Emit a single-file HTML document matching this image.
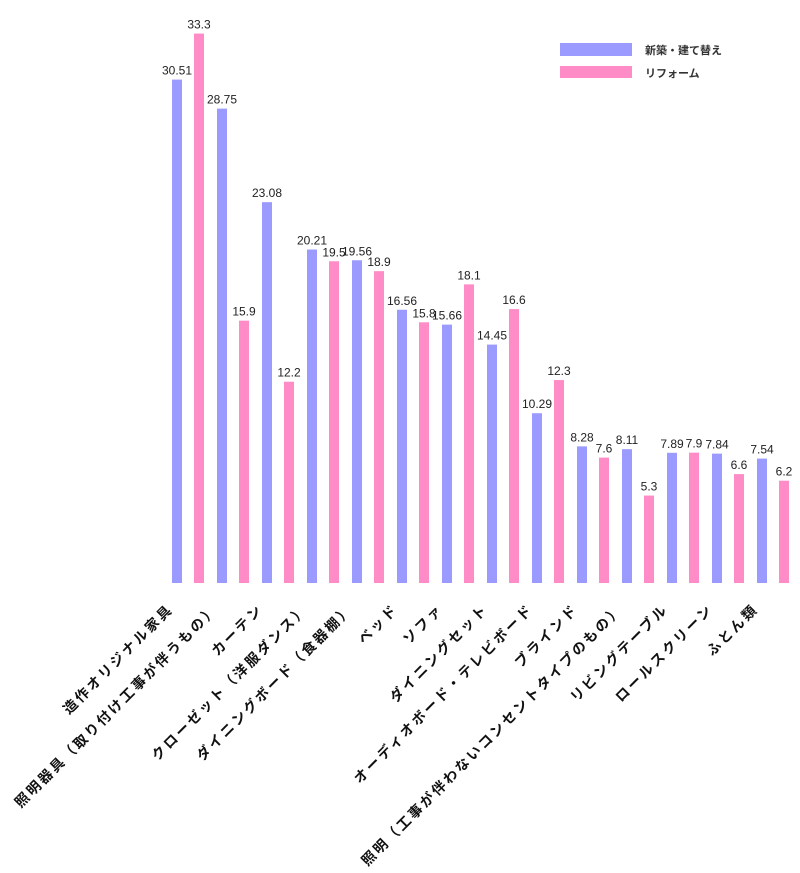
<!DOCTYPE html>
<html><head><meta charset="utf-8"><style>
body{margin:0;background:#fff;}
svg text{font-family:"Liberation Sans","Noto Sans CJK JP",sans-serif;}
</style></head><body>
<svg width="800" height="868" viewBox="0 0 800 868">
<g id="bars"></g><g id="labels"></g>
<g>
<rect x="560" y="43" width="72" height="13" fill="#9a9aff"/>
<text x="645" y="54" font-size="11" font-weight="bold" fill="#333">新築・建て替え</text>
<rect x="560" y="66" width="72" height="12" fill="#ff8cc6"/>
<text x="645" y="77" font-size="11" font-weight="bold" fill="#333">リフォーム</text>
</g>
</svg>
<script>
const categories=["造作オリジナル家具","照明器具（取り付け工事が伴うもの）","カーテン","クローゼット（洋服ダンス）","ダイニングボード（食器棚）","ベッド","ソファ","ダイニングセット","オーディオボード・テレビボード","ブラインド","照明（工事が伴わないコンセントタイプのもの）","リビングテーブル","ロールスクリーン","ふとん類"];
const newBuild=[30.51,28.75,23.08,20.21,19.56,16.56,15.66,14.45,10.29,8.28,8.11,7.89,7.84,7.54];
const reform=[33.3,15.9,12.2,19.5,18.9,15.8,18.1,16.6,12.3,7.6,5.3,7.9,6.6,6.2];
const NS="http://www.w3.org/2000/svg";
const base=583, scale=16.5, x0=172, step=45, bw=10;
const y=v=>base-v*scale;
const xg=i=>x0+i*step;
const bars=document.getElementById('bars'), labels=document.getElementById('labels');
function mk(t,a){const e=document.createElementNS(NS,t);for(const k in a)e.setAttribute(k,a[k]);return e;}
[[newBuild,0,"#9a9aff","new"],[reform,22,"#ff8cc6","reform"]].forEach(([arr,off,col,nm])=>{
 arr.forEach((v,i)=>{
  const r=mk('rect',{x:xg(i)+off,y:y(v),width:bw,height:base-y(v),fill:col});
  
  
  bars.appendChild(r);
  const t=mk('text',{x:xg(i)+off+bw/2,y:y(v)-5,'font-size':12,'text-anchor':'middle',fill:'#222'});
  t.textContent=String(v);
  
  
  bars.appendChild(t);
 });
});
categories.forEach((c,i)=>{
 const cx=xg(i)+bw/2+11-14, cy=610;
 const t=mk('text',{x:cx,y:cy,'font-size':14,'font-weight':'bold','letter-spacing':2.5,'text-anchor':'end',fill:'#111',transform:`rotate(-45 ${cx} ${cy})`});
 t.textContent=c;
 
 
 labels.appendChild(t);
});
</script>
</body></html>
